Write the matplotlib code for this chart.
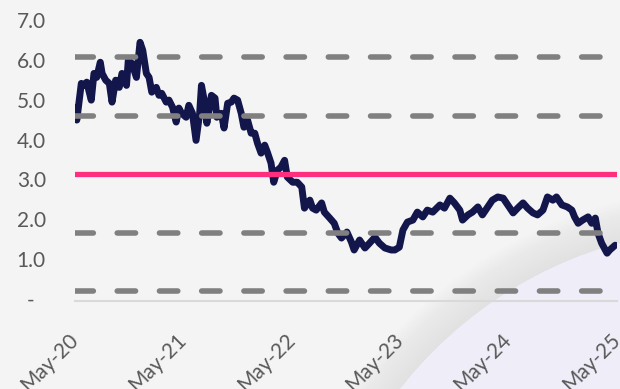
import matplotlib
matplotlib.use("Agg")
import matplotlib.pyplot as plt
from matplotlib.patches import Circle

# months since May-2020
months = [0.0, 0.2, 0.7, 1.0, 1.3, 1.8, 2.1, 2.4, 2.8, 3.0, 3.4, 3.8, 4.1, 4.5, 4.9,
          5.2, 5.7, 5.9, 6.3, 6.8, 7.2, 7.5, 7.9, 8.2, 8.5, 9.0, 9.3, 9.6, 10.1, 10.4,
          10.8, 11.2, 11.5, 11.8, 12.3, 12.6, 13.0, 13.4, 13.8, 14.0, 14.3, 14.6, 15.1,
          15.5, 15.7, 16.2, 16.5, 16.9, 17.3, 17.6, 18.0, 18.4, 18.7, 19.1, 19.5, 19.9,
          20.2, 20.6, 21.0, 21.3, 21.7, 22.0, 22.4, 22.8, 23.2, 23.5, 24.1, 24.6, 25.1,
          25.4, 26.0, 26.3, 26.7, 27.3, 27.6, 28.2, 28.7, 29.1, 29.5, 30.1, 30.6, 30.9,
          31.5, 32.1, 32.6, 33.2, 33.7, 34.3, 35.0, 35.4, 35.9, 36.3, 36.8, 37.4, 37.9,
          38.5, 39.0, 39.6, 40.4, 40.9, 41.5, 42.0, 42.6, 42.9, 43.5, 44.0, 44.6, 45.1,
          45.7, 46.2, 46.8, 47.4, 47.9, 48.5, 49.0, 49.6, 50.1, 50.7, 51.2, 51.8, 52.3,
          52.9, 53.3, 53.9, 54.5, 55.0, 55.3, 55.7, 56.2, 56.8, 57.2, 57.6, 57.9, 58.3,
          58.9, 59.2, 59.8]
values = [4.80, 4.49, 5.41, 5.36, 5.44, 4.99, 5.66, 5.56, 5.94, 5.66, 5.49, 5.41, 4.94, 5.49, 5.31,
          5.66, 5.36, 5.99, 5.91, 5.56, 6.44, 6.24, 5.66, 5.56, 5.19, 5.31, 5.11, 5.16, 4.94, 4.99,
          4.81, 4.44, 4.79, 4.66, 4.56, 4.86, 4.66, 3.98, 4.66, 5.36, 4.99, 4.41, 5.11,
          5.04, 4.56, 4.66, 4.29, 4.91, 4.94, 5.04, 4.99, 4.66, 4.31, 4.49, 4.16, 4.16,
          3.91, 3.66, 3.86, 3.68, 3.41, 2.93, 3.23, 3.31, 3.48, 3.06, 2.93, 2.93, 2.81,
          2.28, 2.48, 2.28, 2.23, 2.41, 2.18, 2.03, 1.90, 1.65, 1.53, 1.68, 1.43, 1.23,
          1.48, 1.28, 1.40, 1.55, 1.40, 1.28, 1.23, 1.23, 1.30, 1.73, 1.93, 1.98, 2.18,
          2.06, 2.23, 2.18, 2.36, 2.28, 2.53, 2.41, 2.23, 1.98, 2.11, 2.18, 2.31, 2.11,
          2.31, 2.48, 2.56, 2.53, 2.36, 2.16, 2.28, 2.41, 2.28, 2.16, 2.11, 2.23, 2.56,
          2.48, 2.56, 2.36, 2.31, 2.23, 2.06, 1.90, 1.98, 2.06, 1.90, 2.03, 1.65, 1.40,
          1.15, 1.23, 1.35]

mean_level = 3.13
band_step = 1.47

y_ticks = [0, 1, 2, 3, 4, 5, 6, 7]
y_tick_labels = ["-  ", "1.0", "2.0", "3.0", "4.0", "5.0", "6.0", "7.0"]
x_ticks = [0, 12, 24, 36, 48, 60]
x_tick_labels = ["May-20", "May-21", "May-22", "May-23", "May-24", "May-25"]

W, H = 620, 389
fig = plt.figure(figsize=(W / 100, H / 100), dpi=100)
fig.patch.set_facecolor("#F4F4F4")

# decorative background swoosh
bg = fig.add_axes([0, 0, 1, 1], zorder=0)
bg.set_xlim(0, W)
bg.set_ylim(0, H)
bg.axis("off")
cx, cy, r = 730, -258, 419
for k in range(40, 0, -3):
    bg.add_patch(Circle((cx, cy), r + k, facecolor="#cfcfcf", alpha=0.035, lw=0))
bg.add_patch(Circle((cx, cy), r, facecolor="#EEEDF8", lw=0))

left, right, top, bottom = 75, 617, 20, 301
ax = fig.add_axes([left / W, 1 - bottom / H, (right - left) / W, (bottom - top) / H], zorder=1)
ax.patch.set_alpha(0)

ax.plot(months, values, color="#12164B", lw=5, solid_joinstyle="round",
        solid_capstyle="round", zorder=2)

for k in (-2, -1, 1, 2):
    ax.axhline(mean_level + k * band_step, color="#808080", lw=4,
               dashes=(3.3, 4.3), dash_capstyle="round", zorder=3)
ax.axhline(mean_level, color="#FF2E7E", lw=3.8, zorder=4)

ax.set_xlim(0, 60)
ax.set_ylim(-0.05, 7)
ax.set_yticks(y_ticks)
ax.set_yticklabels(y_tick_labels)
ax.set_xticks(x_ticks)
ax.set_xticklabels(x_tick_labels, rotation=45, ha="right", va="center",
                   rotation_mode="anchor")
for lab in ax.get_xticklabels() + ax.get_yticklabels():
    lab.set_fontfamily("Lato")
    lab.set_fontsize(15)
    lab.set_color("#595959")

ax.tick_params(axis="y", length=0, pad=21)
ax.tick_params(axis="x", length=0, pad=26)
for s in ("left", "right", "top"):
    ax.spines[s].set_visible(False)
ax.spines["bottom"].set_color("#D9D9D9")
ax.spines["bottom"].set_linewidth(1.5)

fig.savefig("out.png", dpi=100, facecolor=fig.get_facecolor())
